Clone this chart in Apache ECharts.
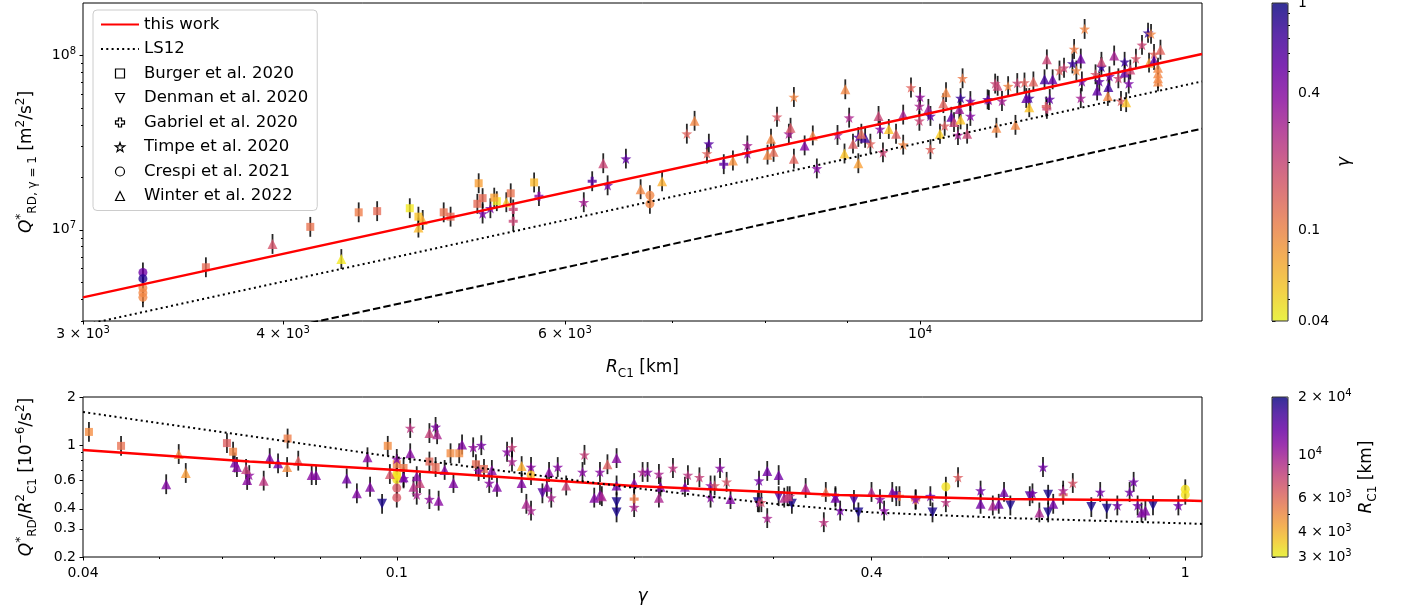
<!DOCTYPE html>
<html>
<head>
<meta charset="utf-8">
<script src="https://cdn.jsdelivr.net/npm/echarts@6.0.0/dist/echarts.min.js"></script>
<style>
html, body { margin: 0; padding: 0; background: #fff; }
#main { width: 1402px; height: 614px; }
</style>
</head>
<body>
<div id="main"></div>
<script>
// ---- data ----
// top panel: [R_C1 (km), Q*_RD,gamma=1 (m^2/s^2), gamma]
const topBurger = [
  [3580, 6.1e6, 0.13], [4160, 1.04e7, 0.12], [4460, 1.26e7, 0.11], [4580, 1.28e7, 0.13],
  [4800, 1.33e7, 0.045], [4860, 1.19e7, 0.06], [5040, 1.26e7, 0.12], [5090, 1.19e7, 0.13],
  [5300, 1.85e7, 0.08], [5290, 1.41e7, 0.13], [5330, 1.52e7, 0.13], [5440, 1.46e7, 0.045],
  [5420, 1.53e7, 0.08], [5550, 1.62e7, 0.12], [5740, 1.87e7, 0.065]
];
const topDenman = [];
const topGabriel = [
  [5570, 1.31e7, 0.2], [5570, 1.12e7, 0.2], [5780, 1.56e7, 0.4], [6240, 1.9e7, 0.6],
  [7540, 2.38e7, 0.55], [12000, 4.94e7, 0.2], [11990, 5.1e7, 0.15]
];
const topTimpe = [
  [5330, 1.24e7, 0.45], [5390, 1.33e7, 0.45], [6165, 1.44e7, 0.3], [6380, 1.8e7, 0.45],
  [6550, 2.56e7, 0.55], [7150, 3.56e7, 0.14], [7380, 3.12e7, 0.6], [7360, 2.74e7, 0.14],
  [7800, 3.05e7, 0.3], [7800, 2.74e7, 0.4], [8140, 4.45e7, 0.16], [8280, 3.56e7, 0.3],
  [8340, 5.78e7, 0.1], [8620, 2.25e7, 0.4], [9030, 4.4e7, 0.28], [8880, 3.5e7, 0.3],
  [9150, 3.41e7, 0.6], [9310, 3.12e7, 0.14], [9440, 3.79e7, 0.4], [9480, 2.78e7, 0.2],
  [9760, 3.08e7, 0.1], [9870, 6.55e7, 0.14], [9990, 5.13e7, 0.28], [10000, 5.78e7, 0.35],
  [10150, 4.5e7, 0.55], [9990, 4.22e7, 0.2], [10150, 2.9e7, 0.14], [10360, 3.95e7, 0.15],
  [10630, 7.4e7, 0.11], [10600, 5.7e7, 0.75], [10560, 3.5e7, 0.3], [10750, 4.5e7, 0.4],
  [10750, 5.48e7, 0.45], [11040, 5.55e7, 0.3], [11020, 5.6e7, 0.6], [11140, 6.9e7, 0.2],
  [11250, 5.48e7, 0.3], [11350, 6.67e7, 0.1], [11500, 6.95e7, 0.2], [11620, 7.0e7, 0.14],
  [11700, 5.7e7, 0.7], [12050, 5.63e7, 0.55], [12220, 8.2e7, 0.14], [12300, 8.5e7, 0.2],
  [12450, 9.0e7, 0.75], [12480, 1.09e8, 0.11], [12670, 1.42e8, 0.1], [12520, 8.2e7, 0.1],
  [12600, 5.7e7, 0.3], [12620, 7.1e7, 0.45], [12870, 7.8e7, 0.17], [12940, 7.1e7, 0.55],
  [12980, 8.6e7, 0.75], [13130, 7.6e7, 0.45], [13300, 7.4e7, 0.2], [13350, 5.48e7, 0.15],
  [13420, 9.2e7, 0.75], [13500, 6.9e7, 0.45], [13640, 9.6e7, 0.17], [13760, 1.15e8, 0.2],
  [13880, 1.35e8, 0.8], [13940, 1.33e8, 0.1], [14000, 1.02e8, 0.14]
];
const topCrespi = [
  [3270, 5.7e6, 0.5], [3270, 5.25e6, 0.85], [3270, 4.65e6, 0.1], [3270, 4.35e6, 0.1],
  [3270, 4.1e6, 0.1], [6780, 1.58e7, 0.1], [6780, 1.41e7, 0.1]
];
const topWinter = [
  [3940, 8.3e6, 0.17], [4350, 6.8e6, 0.045], [4860, 1.03e7, 0.065], [4890, 1.14e7, 0.07],
  [5515, 1.44e7, 0.06], [6340, 2.41e7, 0.2], [6690, 1.71e7, 0.1], [6900, 1.9e7, 0.07],
  [7230, 4.22e7, 0.1], [7640, 2.5e7, 0.09], [8070, 3.33e7, 0.1], [8100, 2.8e7, 0.13],
  [8030, 2.7e7, 0.1], [8300, 3.85e7, 0.16], [8340, 2.56e7, 0.14], [8470, 3.05e7, 0.4],
  [8570, 3.48e7, 0.1], [8980, 6.4e7, 0.1], [8970, 2.74e7, 0.06], [9150, 2.41e7, 0.08],
  [9080, 3.12e7, 0.15], [9240, 3.37e7, 0.75], [9190, 3.56e7, 0.13], [9420, 4.5e7, 0.2],
  [9560, 3.79e7, 0.06], [9660, 3.56e7, 0.15], [9760, 4.58e7, 0.3], [10120, 4.94e7, 0.32],
  [10290, 3.56e7, 0.055], [10340, 5.33e7, 0.14], [10380, 6.16e7, 0.1], [10460, 4.45e7, 0.55],
  [10500, 4.15e7, 0.2], [10580, 4.94e7, 0.32], [10600, 4.3e7, 0.06], [10700, 3.56e7, 0.2],
  [11160, 3.85e7, 0.1], [11470, 4.0e7, 0.1], [11180, 6.7e7, 0.2], [11650, 5.7e7, 0.55],
  [11770, 7.1e7, 0.14], [11700, 5.05e7, 0.06], [11960, 7.3e7, 0.7], [12000, 9.5e7, 0.2],
  [12100, 7.3e7, 0.55], [12600, 9.6e7, 0.5], [12980, 9.2e7, 0.2], [12900, 6.3e7, 0.55],
  [13110, 6.6e7, 0.7], [13100, 5.86e7, 0.1], [13220, 1.0e8, 0.3], [13450, 5.4e7, 0.06],
  [13420, 8.0e7, 0.55], [13530, 8.3e7, 0.2], [13900, 9.1e7, 0.08], [14000, 9.4e7, 0.55],
  [14080, 8.5e7, 0.1], [14080, 7.9e7, 0.1], [14080, 7.4e7, 0.1], [14080, 7.1e7, 0.1],
  [14130, 1.08e8, 0.14]
];

// bottom panel: [gamma, Q*_RD/R_C1^2 (1e-6 /s^2), R_C1 (km)]
const botBurger = [
  [0.0407, 1.21, 5000], [0.0447, 0.99, 5800], [0.0609, 1.03, 6500], [0.062, 0.91, 5200],
  [0.0727, 1.10, 5400], [0.0974, 0.99, 5000], [0.1, 0.76, 5300], [0.102, 0.72, 5500],
  [0.110, 0.79, 6200], [0.112, 0.73, 6000], [0.117, 0.89, 5000], [0.120, 0.89, 5000],
  [0.126, 0.76, 6000], [0.129, 0.71, 6000]
];
const botDenman = [
  [0.0958, 0.43, 19000], [0.153, 0.50, 15000], [0.19, 0.44, 19000], [0.19, 0.38, 19000],
  [0.287, 0.44, 19000], [0.305, 0.48, 15000], [0.317, 0.43, 19000], [0.38, 0.455, 16000],
  [0.385, 0.38, 19000], [0.43, 0.48, 15000], [0.478, 0.38, 19000], [0.60, 0.42, 19000],
  [0.635, 0.48, 15000], [0.67, 0.49, 19000], [0.67, 0.38, 19000], [0.76, 0.41, 19000],
  [0.795, 0.40, 19000], [0.91, 0.42, 19000]
];
const botGabriel = [
  [0.2, 0.46, 5500], [0.434, 0.48, 5600], [0.455, 0.455, 5800], [0.70, 0.49, 6300]
];
const botTimpe = [
  [0.065, 0.65, 11000], [0.104, 1.28, 8500], [0.1, 0.82, 11500], [0.102, 0.62, 11500],
  [0.106, 0.49, 9500], [0.11, 0.46, 11000], [0.112, 1.30, 12000], [0.125, 0.97, 11000],
  [0.128, 1.0, 12500], [0.127, 0.69, 11500], [0.131, 0.58, 11500], [0.138, 0.91, 11500],
  [0.14, 0.97, 8000], [0.14, 0.79, 9500], [0.148, 0.73, 11500], [0.148, 0.39, 9500],
  [0.157, 0.47, 9500], [0.16, 0.73, 11500], [0.173, 0.87, 8000], [0.172, 0.68, 11500],
  [0.181, 0.68, 11500], [0.2, 0.41, 9500], [0.205, 0.68, 9500], [0.208, 0.68, 11500],
  [0.215, 0.66, 9500], [0.224, 0.72, 8500], [0.234, 0.65, 8500], [0.242, 0.63, 8000],
  [0.25, 0.56, 11500], [0.25, 0.47, 11500], [0.253, 0.56, 7000], [0.257, 0.72, 11500],
  [0.262, 0.59, 7000], [0.288, 0.60, 13000], [0.288, 0.44, 8500], [0.29, 0.44, 7000],
  [0.295, 0.35, 9500], [0.315, 0.48, 8500], [0.348, 0.33, 8500], [0.36, 0.48, 11500],
  [0.365, 0.39, 13000], [0.41, 0.46, 11500], [0.415, 0.39, 11500], [0.455, 0.46, 11500],
  [0.475, 0.48, 13000], [0.497, 0.44, 8500], [0.515, 0.63, 6500], [0.55, 0.52, 13000],
  [0.64, 0.50, 13000], [0.66, 0.73, 13000], [0.70, 0.52, 9500], [0.72, 0.58, 7000],
  [0.78, 0.51, 13000], [0.82, 0.42, 13000], [0.85, 0.51, 13000], [0.86, 0.59, 13000],
  [0.87, 0.42, 13000], [0.98, 0.42, 13000]
];
const botCrespi = [
  [0.1, 0.61, 3300], [0.1, 0.64, 3300], [0.1, 0.66, 3300], [0.1, 0.54, 6800], [0.1, 0.47, 6800],
  [0.148, 0.65, 4000], [0.497, 0.55, 3300], [1.0, 0.53, 3300], [1.0, 0.49, 3300]
];
const botWinter = [
  [0.0529, 0.88, 5000], [0.054, 0.67, 4600], [0.051, 0.57, 12000], [0.0623, 0.78, 12500],
  [0.0627, 0.73, 11500], [0.0644, 0.71, 8000], [0.0646, 0.606, 11500], [0.0678, 0.60, 8500],
  [0.0690, 0.83, 12500], [0.0707, 0.77, 13000], [0.0726, 0.73, 5000], [0.075, 0.80, 6500],
  [0.078, 0.65, 11500], [0.079, 0.65, 12000], [0.0864, 0.62, 13000], [0.089, 0.50, 12000],
  [0.0918, 0.84, 11500], [0.0925, 0.55, 12000], [0.098, 0.66, 7000], [0.102, 0.63, 13000],
  [0.104, 0.89, 11500], [0.105, 0.55, 9000], [0.107, 0.58, 8000], [0.106, 0.64, 11500],
  [0.110, 1.19, 8000], [0.1125, 1.17, 9500], [0.113, 0.45, 11500], [0.121, 1.01, 12000],
  [0.115, 0.70, 12000], [0.118, 0.58, 12000], [0.132, 0.70, 11500], [0.134, 0.55, 12000],
  [0.144, 0.74, 4200], [0.144, 0.58, 12000], [0.146, 0.43, 9500], [0.155, 0.55, 11500],
  [0.156, 0.68, 11500], [0.164, 0.56, 8000], [0.185, 0.76, 6500], [0.19, 0.83, 11500],
  [0.178, 0.47, 12000], [0.181, 0.49, 12000], [0.182, 0.48, 9500], [0.19, 0.56, 13000],
  [0.2, 0.58, 12000], [0.215, 0.47, 9500], [0.216, 0.55, 12000], [0.232, 0.55, 12000],
  [0.265, 0.46, 12000], [0.295, 0.69, 13000], [0.305, 0.65, 13000], [0.31, 0.47, 9500],
  [0.313, 0.48, 8000], [0.33, 0.54, 9500], [0.35, 0.51, 5800], [0.36, 0.47, 13000],
  [0.40, 0.51, 9500], [0.425, 0.51, 12000], [0.55, 0.43, 13000], [0.57, 0.42, 9500],
  [0.58, 0.43, 13000], [0.589, 0.51, 13000], [0.653, 0.38, 9500], [0.68, 0.43, 13000],
  [0.88, 0.38, 12000], [0.89, 0.39, 12000]
];

// fitted / reference curves
const topThisWork = [[3000, 4.1e6], [15000, 1.02e8]];
const topLS12 = [[3000, 2.84e6], [15000, 7.1e7]];
const topDashed = [[3000, 1.52e6], [15000, 3.8e7]];
const botThisWork = [[0.04, 0.933], [0.065, 0.79], [0.1, 0.70], [0.2, 0.556], [0.364, 0.488], [0.58, 0.461], [1.0, 0.451], [1.05, 0.448]];
const botLS12 = [[0.04, 1.61], [0.065, 1.14], [0.1, 0.84], [0.15, 0.65], [0.2, 0.54], [0.3, 0.43], [0.4, 0.38], [0.6, 0.35], [1.05, 0.322]];

// half length of error bars (dex)
const topErrDex = 0.057;
const botErrDex = 0.062;

// ticks
const topXLabels = [3000, 4000, 6000, 10000];
const topXMinor = [5000, 7000, 8000, 9000];
const topYLabels = [1e7, 1e8];
const topYMinor = [3e6, 4e6, 5e6, 6e6, 7e6, 8e6, 9e6, 2e7, 3e7, 4e7, 5e7, 6e7, 7e7, 8e7, 9e7];
const botXLabels = [0.04, 0.1, 0.4, 1];
const botXMinor = [0.05, 0.06, 0.07, 0.08, 0.09, 0.2, 0.3, 0.5, 0.6, 0.7, 0.8, 0.9];
const botYLabels = [0.2, 0.3, 0.4, 0.6, 1, 2];
const botYMinor = [0.5, 0.7, 0.8, 0.9];
const cbGammaLabels = [0.04, 0.1, 0.4, 1];
const cbGammaMinor = [0.05, 0.06, 0.07, 0.08, 0.09, 0.2, 0.3, 0.5, 0.6, 0.7, 0.8, 0.9];
const cbRadiusLabels = [3000, 4000, 6000, 10000, 20000];
const cbRadiusMinor = [5000, 7000, 8000, 9000];

// ---- styling ----
const FONT = 'DejaVu Sans';
const plasmaR = ['#f0f921', '#fcce25', '#fca636', '#f2844b', '#e16462', '#cc4778',
                 '#b12a90', '#8f0da4', '#6a00a8', '#41049d', '#0d0887'];
function withAlpha(hex, a) {
  const n = parseInt(hex.slice(1), 16);
  return 'rgba(' + (n >> 16) + ',' + ((n >> 8) & 255) + ',' + (n & 255) + ',' + a + ')';
}
const cmap = plasmaR.map(c => withAlpha(c, 0.8));

const SYM = {
  square: 'path://M-10,-10L10,-10L10,10L-10,10Z',
  down: 'path://M-10,-10L10,-10L0,10Z',
  plus: 'path://M-3.4,-10L3.4,-10L3.4,-3.4L10,-3.4L10,3.4L3.4,3.4L3.4,10L-3.4,10L-3.4,3.4L-10,3.4L-10,-3.4L-3.4,-3.4Z',
  star: 'path://M0,-10L2.35,-3.24L9.51,-3.09L3.8,1.24L5.88,8.09L0,4L-5.88,8.09L-3.8,1.24L-9.51,-3.09L-2.35,-3.24Z',
  circle: 'circle',
  up: 'path://M0,-10L10,10L-10,10Z'
};

const tickText = {
  color: '#000', fontFamily: FONT, fontSize: 14, lineHeight: 18,
  rich: { s: { color: '#000', fontFamily: FONT, fontSize: 10, lineHeight: 10, verticalAlign: 'top' } }
};
const nameText = {
  color: '#000', fontFamily: FONT, fontSize: 17, lineHeight: 24,
  rich: {
    i: { color: '#000', fontFamily: FONT, fontSize: 17, lineHeight: 24, fontStyle: 'italic' },
    sp: { color: '#000', fontFamily: FONT, fontSize: 12, lineHeight: 12, verticalAlign: 'top' },
    sb: { color: '#000', fontFamily: FONT, fontSize: 12, lineHeight: 12, verticalAlign: 'bottom' }
  }
};

function sciFmt(v) {
  const e = Math.floor(Math.log10(v) + 1e-9);
  const m = Math.round(v / Math.pow(10, e));
  return (m === 1 ? '' : m + ' × ') + '10{s|' + e + '}';
}
function plainFmt(v) {
  return String(Number(v.toPrecision(4)));
}

function logAxis(grid, min, max, pos, ticks, tickLen, labels, fmt, margin, name, nameGap) {
  return {
    type: 'log', logBase: 10, gridIndex: grid, min: min, max: max, position: pos,
    axisLine: { show: false }, splitLine: { show: false },
    axisTick: { show: true, customValues: ticks, length: tickLen, lineStyle: { color: '#000', width: 1 } },
    axisLabel: labels ? Object.assign({ show: true, customValues: labels, formatter: fmt, margin: margin }, tickText) : { show: false },
    name: name || '', nameLocation: 'middle', nameGap: nameGap || 0, nameTextStyle: nameText,
    nameMoveOverlap: false, silent: true
  };
}

// ---- series ----
const papers = [
  ['Burger et al. 2020', SYM.square, 8, topBurger, botBurger],
  ['Denman et al. 2020', SYM.down, 10, topDenman, botDenman],
  ['Gabriel et al. 2020', SYM.plus, 9, topGabriel, botGabriel],
  ['Timpe et al. 2020', SYM.star, 11, topTimpe, botTimpe],
  ['Crespi et al. 2021', SYM.circle, 9, topCrespi, botCrespi],
  ['Winter et al. 2022', SYM.up, 10, topWinter, botWinter]
];

function errSeries(xi, yi, pts, dex) {
  return {
    type: 'custom', xAxisIndex: xi, yAxisIndex: yi, clip: true, silent: true, z: 1,
    data: pts.map(d => [d[0], d[1]]),
    encode: { x: 0, y: 1 },
    renderItem: function (params, api) {
      const x = api.value(0), y = api.value(1), f = Math.pow(10, dex);
      const a = api.coord([x, y / f]), b = api.coord([x, y * f]);
      return { type: 'line', shape: { x1: a[0], y1: a[1], x2: b[0], y2: b[1] },
               style: { stroke: 'rgba(0,0,0,0.85)', lineWidth: 1.8 } };
    }
  };
}

const series = [];
const topAll = [].concat(...papers.map(p => p[3]));
const botAll = [].concat(...papers.map(p => p[4]));
series.push(errSeries(0, 0, topAll, topErrDex));
series.push(errSeries(2, 2, botAll, botErrDex));

const topScatterIdx = [], botScatterIdx = [];
papers.forEach(p => {
  topScatterIdx.push(series.length);
  series.push({
    type: 'scatter', name: p[0], xAxisIndex: 0, yAxisIndex: 0, symbol: p[1], symbolSize: p[2],
    symbolKeepAspect: true, itemStyle: { opacity: 1 }, z: 2, silent: true,
    data: p[3].map(d => [d[0], d[1], Math.log10(d[2])])
  });
});
papers.forEach(p => {
  botScatterIdx.push(series.length);
  series.push({
    type: 'scatter', name: p[0], xAxisIndex: 2, yAxisIndex: 2, symbol: p[1], symbolSize: p[2],
    symbolKeepAspect: true, itemStyle: { opacity: 1 }, z: 2, silent: true,
    data: p[4].map(d => [d[0], d[1], Math.log10(d[2])])
  });
});

function lineSeries(name, xi, yi, data, color, width, type) {
  return {
    type: 'line', name: name, xAxisIndex: xi, yAxisIndex: yi, data: data, symbol: 'none',
    clip: true, silent: true, z: 3,
    lineStyle: { color: color, width: width, type: type }
  };
}
series.push(lineSeries('this work', 0, 0, topThisWork, '#ff0000', 2.5, 'solid'));
series.push(lineSeries('LS12', 0, 0, topLS12, '#000', 2, [2, 3.3]));
series.push(lineSeries('dashed', 0, 0, topDashed, '#000', 2, [7.4, 3.2]));
series.push(lineSeries('this work', 2, 2, botThisWork, '#ff0000', 2.5, 'solid'));
series.push(lineSeries('LS12', 2, 2, botLS12, '#000', 2, [2, 3.3]));

const legendMarker = { color: '#ffffff', borderColor: '#000', borderWidth: 1.2 };
const legendLineOnly = { opacity: 0 };

const chart = echarts.init(document.getElementById('main'), null, { renderer: 'canvas' });
chart.setOption({
  animation: false,
  backgroundColor: '#fff',
  grid: [
    { left: 83, top: 3, width: 1119, height: 318, show: true, borderColor: '#000', borderWidth: 1, backgroundColor: 'transparent', outerBoundsMode: 'none' },
    { left: 83, top: 397, width: 1119, height: 160, show: true, borderColor: '#000', borderWidth: 1, backgroundColor: 'transparent', outerBoundsMode: 'none' },
    { left: 1272, top: 3, width: 16, height: 318, show: true, borderColor: '#333', borderWidth: 1, backgroundColor: 'transparent', z: 10, outerBoundsMode: 'none' },
    { left: 1272, top: 397, width: 16, height: 160, show: true, borderColor: '#333', borderWidth: 1, backgroundColor: 'transparent', z: 10, outerBoundsMode: 'none' }
  ],
  xAxis: [
    logAxis(0, 3000, 15000, 'bottom', topXLabels, 3.5, topXLabels, sciFmt, 4, '{i|R}{sb|C1} [km]', 35),
    logAxis(0, 3000, 15000, 'bottom', topXMinor, 2, null),
    logAxis(1, 0.04, 1.05, 'bottom', botXLabels, 3.5, botXLabels, plainFmt, 7, '{i|γ}', 28),
    logAxis(1, 0.04, 1.05, 'bottom', botXMinor, 2, null),
    { type: 'value', gridIndex: 2, show: false },
    { type: 'value', gridIndex: 3, show: false }
  ],
  yAxis: [
    logAxis(0, 3e6, 2e8, 'left', topYLabels, 3.5, topYLabels, sciFmt, 7, '{i|Q}{sp|*}{sb|RD, γ = 1} [m{sp|2}/s{sp|2}]', 44),
    logAxis(0, 3e6, 2e8, 'left', topYMinor, 2, null),
    logAxis(1, 0.2, 2, 'left', botYLabels, 3.5, botYLabels, plainFmt, 7, '{i|Q}{sp|*}{sb|RD}/{i|R}{sp|2}{sb|C1} [10{sp|−6}/s{sp|2}]', 44),
    logAxis(1, 0.2, 2, 'left', botYMinor, 2, null),
    logAxis(2, 0.04, 1, 'right', cbGammaLabels, 3.5, cbGammaLabels, plainFmt, 10, '{i|γ}', 45),
    logAxis(2, 0.04, 1, 'right', cbGammaMinor, 2, null),
    logAxis(3, 3000, 20000, 'right', cbRadiusLabels, 3.5, cbRadiusLabels, sciFmt, 10, '{i|R}{sb|C1} [km]', 67),
    logAxis(3, 3000, 20000, 'right', cbRadiusMinor, 2, null)
  ],
  visualMap: [
    {
      type: 'continuous', seriesIndex: topScatterIdx, dimension: 2,
      min: Math.log10(0.04), max: 0, inRange: { color: cmap },
      left: 1272, top: 3, itemWidth: 16, itemHeight: 318, padding: 0,
      calculable: false, text: null, hoverLink: false, z: 4
    },
    {
      type: 'continuous', seriesIndex: botScatterIdx, dimension: 2,
      min: Math.log10(3000), max: Math.log10(20000), inRange: { color: cmap },
      left: 1272, top: 397, itemWidth: 16, itemHeight: 160, padding: 0,
      calculable: false, text: null, hoverLink: false, z: 4
    }
  ],
  legend: {
    orient: 'vertical', left: 93, top: 10, padding: [6, 9, 6, 7],
    itemWidth: 38, itemHeight: 9, itemGap: 7.5, selectedMode: false,
    backgroundColor: 'rgba(255,255,255,0.8)', borderColor: '#cccccc', borderWidth: 1, borderRadius: 4,
    textStyle: { fontFamily: FONT, fontSize: 16.5, color: '#000', lineHeight: 17 },
    data: [
      { name: 'this work', itemStyle: legendLineOnly },
      { name: 'LS12', itemStyle: legendLineOnly },
      { name: 'Burger et al. 2020', icon: SYM.square, itemStyle: legendMarker },
      { name: 'Denman et al. 2020', icon: SYM.down, itemStyle: legendMarker },
      { name: 'Gabriel et al. 2020', icon: SYM.plus, itemStyle: legendMarker },
      { name: 'Timpe et al. 2020', icon: SYM.star, itemStyle: legendMarker },
      { name: 'Crespi et al. 2021', icon: SYM.circle, itemStyle: legendMarker },
      { name: 'Winter et al. 2022', icon: SYM.up, itemStyle: legendMarker }
    ]
  },
  series: series
});
</script>
</body>
</html>
